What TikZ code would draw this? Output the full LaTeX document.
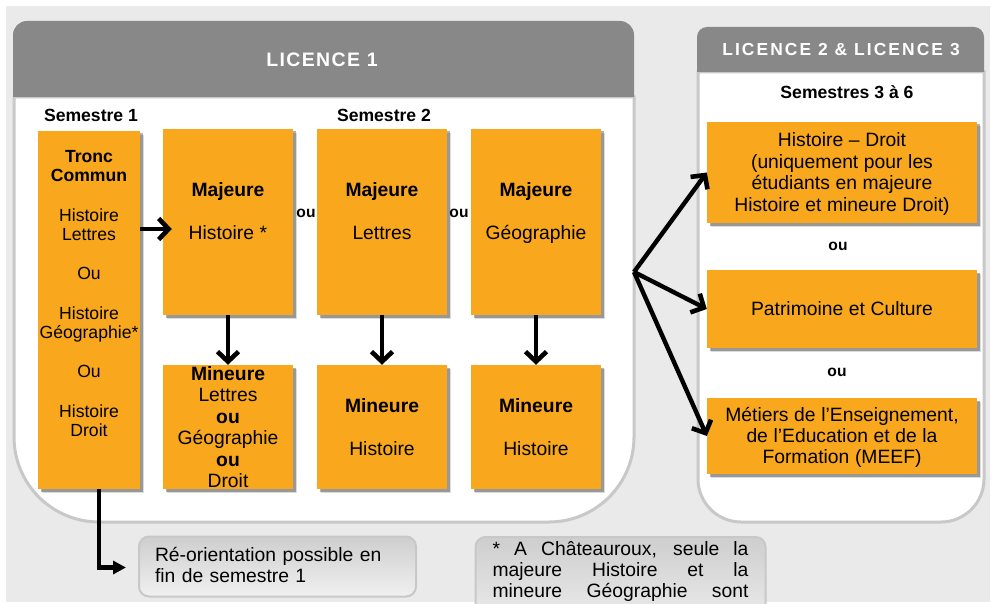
\documentclass[tikz,border=0pt]{standalone}
\usepackage{fontspec}
\setmainfont[WordSpace=1.05]{Liberation Sans}
\newfontfamily\headone[LetterSpace=7,WordSpace=1.0]{Liberation Sans Bold}
\newfontfamily\headtwo[LetterSpace=12,WordSpace=1.0]{Liberation Sans Bold}
\newfontfamily\wideword[WordSpace=1.7]{Liberation Sans Bold}
\usetikzlibrary{arrows.meta,shadows}
\definecolor{orangebox}{HTML}{F9A81E}
\definecolor{headgrey}{HTML}{888888}
\definecolor{pagegrey}{HTML}{EAEAEA}
\definecolor{rimgrey}{HTML}{C8C8C8}
\newcommand{\blank}{\mbox{}}
\tikzset{
  boxsh/.style={drop shadow={shadow xshift=4pt,shadow yshift=-4pt,opacity=.14,fill=black},
                drop shadow={shadow xshift=2.5pt,shadow yshift=-2.5pt,opacity=.3,fill=black}},
  obox/.style={fill=orangebox,boxsh,inner sep=0pt,align=center,text=black,
     font=\fontsize{19.3}{21.45}\selectfont},
  tall/.style={obox,minimum width=130pt,minimum height=186pt},
  low/.style={obox,minimum width=130pt,minimum height=124pt},
  wide/.style={obox,minimum width=270pt},
  title/.style={font=\bfseries\fontsize{17.6}{20}\selectfont,inner sep=0pt,text=black},
  orlabel/.style={font=\bfseries\fontsize{15.6}{18}\selectfont,inner sep=0pt,text=black},
  notebox/.style={draw=rimgrey,line width=2pt,rounded corners=10pt,top color=pagegrey!88!black,bottom color=pagegrey!70!white,
     inner sep=0pt,font=\fontsize{19.3}{21}\selectfont,text=black},
  arrowline/.style={line width=4.4pt,-{Straight Barb[length=10pt,width=21pt,line width=4.6pt]},black},
  elbowline/.style={line width=4.4pt,-{Triangle[length=13pt,width=13pt]},black,line join=miter},
}
\begin{document}
\begin{tikzpicture}[x=1pt,y=-1pt]
\useasboundingbox (0,0) rectangle (992,604);
\clip (0,0) rectangle (992,604);
\fill[white] (0,0) rectangle (992,604);
\fill[pagegrey] (6,6) rectangle (990,602);
% Licence 1 panel
\draw[rimgrey,line width=3pt,fill=white] (14,97) [rounded corners=85pt] -- (14,522) -- (634,522) [sharp corners] -- (634,97) -- cycle;
\fill[headgrey] (13,97) [rounded corners=14pt] -- (13,21) -- (634,21) [sharp corners] -- (634,97) -- cycle;
\node[font=\headone\fontsize{19.5}{22}\selectfont,text=white,inner sep=0pt] (h1) at (322,60) {LICENCE 1};
% Licence 2-3 panel
\draw[rimgrey,line width=3pt,fill=white] (698,72) [rounded corners=43pt] -- (698,522) -- (984,522) [sharp corners] -- (984,72) -- cycle;
\fill[headgrey] (697,72) [rounded corners=10pt] -- (697,27) -- (984,27) [sharp corners] -- (984,72) -- cycle;
\node[font=\headtwo\fontsize{17.4}{20}\selectfont,text=white,inner sep=0pt] (h2) at (841,50) {LICENCE 2 \& LICENCE 3};
% titles
\node[title,font=\fontspec{Liberation Sans Bold}\fontsize{17.6}{20}\selectfont] (s1) at (91,115) {Semestre 1};
\node[title,font=\fontspec{Liberation Sans Bold}\fontsize{17.6}{20}\selectfont] (s2) at (384,115) {Semestre 2};
\node[title,font=\wideword\fontsize{17.6}{20}\selectfont] (s3) at (847,92) {Semestres 3 à 6};
% Semester 1
\node[obox,minimum width=102pt,minimum height=358pt,font=\fontsize{17.6}{19.6}\selectfont] (tronc) at (89,310) {%
  \textbf{Tronc}\\\textbf{Commun}\\\blank\\Histoire\\Lettres\\\blank\\Ou\\\blank\\Histoire\\Géographie*\\\blank\\Ou\\\blank\\Histoire\\Droit\\\blank\\[-6pt]\blank};
% Majeures
\node[tall] (maj1) at (228,222) {\textbf{Majeure}\\\blank\\Histoire *\\\blank};
\node[tall] (maj2) at (382,222) {\textbf{Majeure}\\\blank\\Lettres\\\blank};
\node[tall] (maj3) at (536,222) {\textbf{Majeure}\\\blank\\Géographie\\\blank};
\node[orlabel] (or1) at (306,213) {ou};
\node[orlabel] (or2) at (459,213) {ou};
% Mineures
\node[low] (min1) at (228,427) {\textbf{Mineure}\\Lettres\\\textbf{ou}\\Géographie\\\textbf{ou}\\Droit};
\node[low] (min2) at (382,427) {\textbf{Mineure}\\\blank\\Histoire};
\node[low] (min3) at (536,427) {\textbf{Mineure}\\\blank\\Histoire};
% Right boxes
\node[wide,minimum height=101pt] (b1) at (842,172.5) {\rule{0pt}{17pt}Histoire – Droit\\(uniquement pour les\\étudiants en majeure\\Histoire et mineure Droit)};
\node[orlabel] (or3) at (838,246) {ou};
\node[wide,minimum height=78pt] (b2) at (842,309) {Patrimoine et Culture};
\node[orlabel] (or4) at (837,372) {ou};
\node[wide,minimum height=76pt] (b3) at (842,436) {\rule{0pt}{17pt}Métiers de l’Enseignement,\\de l’Education et de la\\Formation (MEEF)};
% Notes
\node[notebox,minimum width=277pt,minimum height=60pt,align=left,text width=245pt] (n1) at (277.5,566.5) {Ré-orientation possible en\\fin de semestre 1\rule[-4pt]{0pt}{0pt}};
\node[notebox,anchor=north,minimum width=290pt,minimum height=100pt] (n2) at (620.5,536) {%
  \begin{minipage}[t][100pt][t]{256pt}\vspace{4pt}\lineskiplimit=-5pt
  \makebox[256pt][s]{* A Châteauroux, seule la}\\
  \makebox[256pt][s]{majeure Histoire et la}\\
  \makebox[256pt][s]{mineure Géographie sont}
  \end{minipage}};
% Connectors
\coordinate (fork) at (634,272);
\draw[arrowline] ([yshift=81pt]tronc.east) -- ([xshift=9pt,yshift=-7pt]maj1.west);
\draw[arrowline] (maj1) -- (min1);
\draw[arrowline] (maj2) -- (min2);
\draw[arrowline] (maj3) -- (min3);
\draw[arrowline] (fork) -- (b1.west);
\draw[arrowline] (fork) -- (b2.west);
\draw[arrowline] (fork) -- (b3.west);
\draw[elbowline] ([xshift=10pt]tronc.south) |- ([xshift=-12pt,yshift=-1pt]n1.west);
\end{tikzpicture}
\end{document}
